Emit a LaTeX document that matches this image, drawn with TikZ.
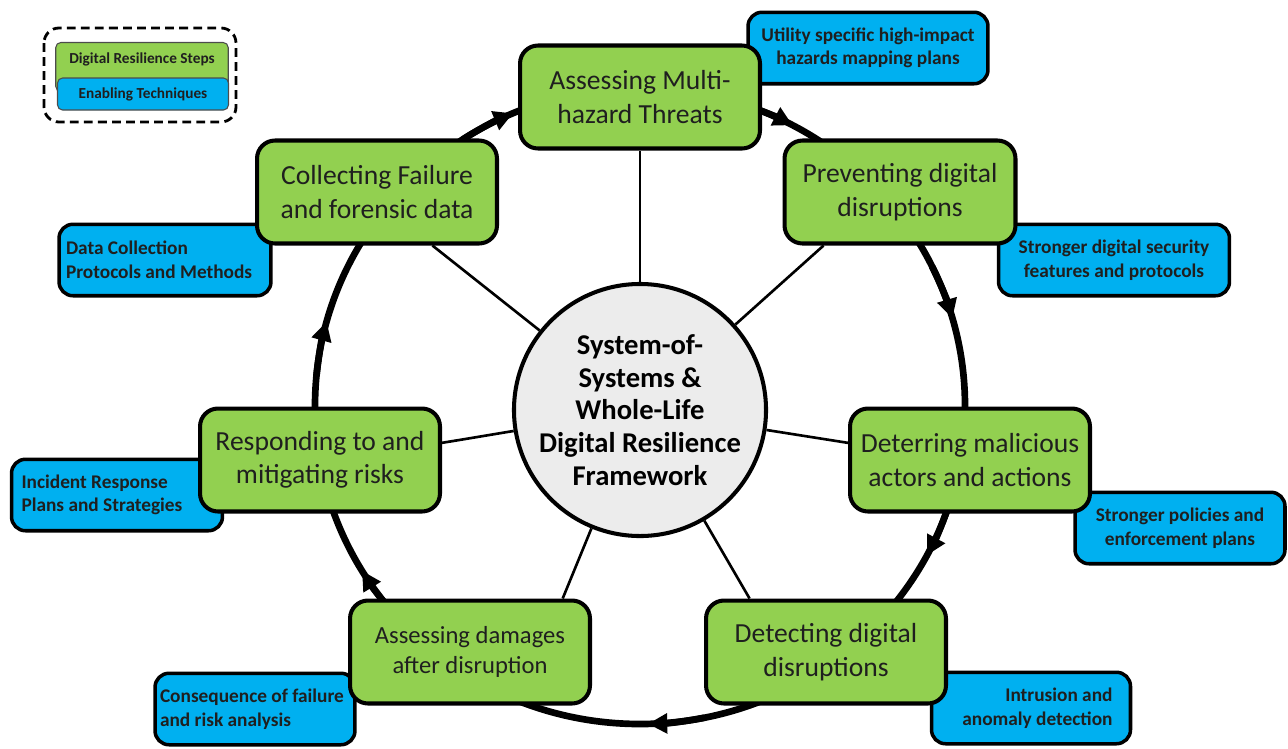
\documentclass[tikz,border=0pt]{standalone}
\usepackage{fontspec}
\setmainfont{Carlito}
\usetikzlibrary{arrows.meta}
\definecolor{stepgreen}{RGB}{146,208,80}
\definecolor{techblue}{RGB}{0,176,240}
\definecolor{hubgray}{RGB}{236,236,236}

\begin{document}
\begin{tikzpicture}[x=0.02cm, y=-0.02cm,
	stepbox/.style={draw, line width=2.3pt, rounded corners=0.36cm, fill=stepgreen, text=black!88, align=flush center, minimum width=4.8cm, minimum height=2.06cm, font=\fontsize{15.7}{19}\selectfont},
	techbox/.style={draw, line width=2pt, rounded corners=0.28cm, fill=techblue, text=black!88, align=flush center, minimum height=1.43cm, font=\fontsize{11}{13.4}\selectfont\bfseries},
	hub/.style={circle, draw, line width=2.3pt, fill=hubgray, minimum size=4.4cm, align=flush center, inner sep=0pt, font=\fontsize{16.3}{18.6}\selectfont\bfseries},
	spoke/.style={line width=1.5pt},
	ring/.style={line width=3.8pt},
	keybox/.style={draw=black!70, line width=0.6pt, rounded corners=0.1cm, text=black!88, font=\fontsize{8.7}{10}\selectfont\bfseries}]
	\useasboundingbox (0,0) rectangle (1288,748);

	\draw[ring] (640,406) ellipse [x radius=325, y radius=318];
	\foreach \a in {247,298,344,28,88.6,148.8,195.4}
		\draw[ring, -{Triangle[length=11pt,width=11pt]}] (640,406) ++({\a-10}:325 and 318) arc[start angle=\a-10, end angle=\a, x radius=325, y radius=318];

	\node[techbox, minimum width=4.8cm] (t1) at (868,48) {Utility specific high-impact\\hazards mapping plans};
	\node[techbox, minimum width=4.62cm] (t2) at (1114,260) {Stronger digital security\\features and protocols};
	\node[techbox, minimum width=4.2cm] (t3) at (1180,528) {Stronger policies and\\enforcement plans};
	\node[techbox, align=flush right, inner xsep=0.36cm, text width=3.26cm] (t4) at (1031,708) {Intrusion and\\anomaly detection};
	\node[techbox, align=flush left, inner xsep=0.1cm, text width=3.8cm] (t5) at (255,709) {Consequence of failure\\and risk analysis};
	\node[techbox, align=flush left, inner xsep=0.2cm, text width=3.82cm] (t6) at (117,495) {Incident Response\\Plans and Strategies};
	\node[techbox, align=flush left, inner xsep=0.14cm, text width=3.96cm] (t7) at (165,260) {Data Collection\\Protocols and Methods};

	\node[stepbox] (s1) at (640,97) {Assessing Multi-\\hazard Threats};
	\node[stepbox, minimum width=4.62cm] (s2) at (900,192) {Preventing digital\\disruptions};
	\node[stepbox] (s3) at (970,460) {Deterring malicious\\actors and actions};
	\node[stepbox] (s4) at (826,652) {Detecting digital\\disruptions};
	\node[stepbox, font=\fontsize{14}{17}\selectfont] (s5) at (470,652) {Assessing damages\\after disruption};
	\node[stepbox] (s6) at (320,460) {Responding to and\\mitigating risks};
	\node[stepbox] (s7) at (377,192) {Collecting Failure\\and forensic data};

	\node[hub] (hub) at (640,410) {System-of-\\Systems \&\\Whole-Life\\Digital Resilience\\Framework};

	\draw[spoke] (hub) -- (s1);
	\draw[spoke] (hub) -- (s2.215);
	\draw[spoke] (hub) -- (s3.172);
	\draw[spoke] (hub) -- (s4.145);
	\draw[spoke] (hub) -- (s5.30);
	\draw[spoke] (hub) -- (s6.8);
	\draw[spoke] (hub) -- (s7.-44);

	\draw[line width=1.6pt, dash pattern=on 5pt off 3pt, rounded corners=0.3cm] (44,28) rectangle (236,122);
	\node[keybox, fill=stepgreen, minimum width=3.45cm, minimum height=0.98cm] (kstep) at (142,67) {};
	\node[keybox, fill=techblue, minimum width=3.42cm, minimum height=0.64cm] (ktech) at (143,94) {Enabling Techniques};
	\node[text=black!88, font=\fontsize{8.7}{10}\selectfont\bfseries] (ksteplabel) at (142,59) {Digital Resilience Steps};
\end{tikzpicture}
\end{document}
